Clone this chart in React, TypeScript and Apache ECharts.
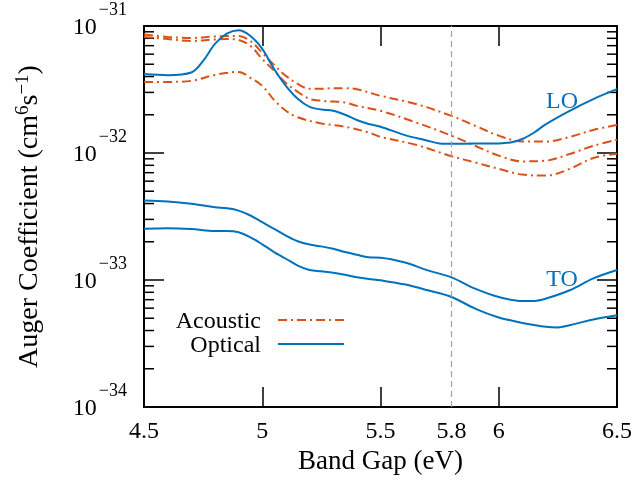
import React, { useEffect, useRef } from 'react';
import * as echarts from 'echarts';

// ---- Data (band gap in eV, Auger coefficient in cm^6 s^-1) ----
const ACOUSTIC_X = [4.5, 4.6, 4.7, 4.8, 4.85, 4.9, 4.95, 5.0, 5.05, 5.1, 5.15, 5.2, 5.25, 5.3, 5.35, 5.4, 5.5, 5.65, 5.8, 5.9, 6.0, 6.1, 6.2, 6.3, 6.4, 6.5];
const ACOUSTIC_1 = [8.57e-32, 8.2e-32, 8.05e-32, 8.27e-32, 8.35e-32, 8.35e-32, 7.62e-32, 6.14e-32, 4.94e-32, 4.05e-32, 3.5e-32, 3.2e-32, 3.2e-32, 3.24e-32, 3.24e-32, 3.18e-32, 2.82e-32, 2.43e-32, 1.96e-32, 1.64e-32, 1.37e-32, 1.23e-32, 1.23e-32, 1.34e-32, 1.52e-32, 1.66e-32];
const ACOUSTIC_2 = [8.2e-32, 7.9e-32, 7.62e-32, 7.83e-32, 7.9e-32, 7.76e-32, 6.97e-32, 5.5e-32, 4.44e-32, 3.56e-32, 3.03e-32, 2.67e-32, 2.58e-32, 2.54e-32, 2.5e-32, 2.35e-32, 2.15e-32, 1.74e-32, 1.37e-32, 1.14e-32, 9.53e-33, 8.59e-33, 8.71e-33, 9.82e-33, 1.14e-32, 1.27e-32];
const ACOUSTIC_3_X = [4.5, 4.6, 4.7, 4.8, 4.9, 4.95, 5.0, 5.05, 5.1, 5.15, 5.25, 5.35, 5.45, 5.5, 5.65, 5.8, 5.9, 6.0, 6.1, 6.2, 6.3, 6.4, 6.5];
const ACOUSTIC_3 = [3.63e-32, 3.63e-32, 3.7e-32, 4.12e-32, 4.35e-32, 3.91e-32, 3.38e-32, 2.62e-32, 2.15e-32, 1.91e-32, 1.71e-32, 1.61e-32, 1.45e-32, 1.34e-32, 1.16e-32, 9.44e-33, 8.43e-33, 7.5e-33, 6.76e-33, 6.64e-33, 7.5e-33, 9.14e-33, 9.88e-33];

const LO_X = [4.5, 4.6, 4.7, 4.75, 4.8, 4.85, 4.9, 4.95, 5.0, 5.05, 5.1, 5.15, 5.2, 5.25, 5.3, 5.35, 5.4, 5.45, 5.5, 5.6, 5.7, 5.75, 5.8, 5.9, 6.0, 6.05, 6.1, 6.15, 6.2, 6.3, 6.4, 6.5];
const LO = [4.18e-32, 4.1e-32, 4.3e-32, 5.31e-32, 7.22e-32, 8.7e-32, 9.25e-32, 8.34e-32, 6.6e-32, 4.59e-32, 3.38e-32, 2.67e-32, 2.31e-32, 2.2e-32, 2.15e-32, 2.0e-32, 1.82e-32, 1.69e-32, 1.61e-32, 1.39e-32, 1.25e-32, 1.19e-32, 1.18e-32, 1.19e-32, 1.19e-32, 1.21e-32, 1.29e-32, 1.45e-32, 1.69e-32, 2.15e-32, 2.66e-32, 3.18e-32];

const TO_1_X = [4.5, 4.6, 4.7, 4.8, 4.85, 4.9, 4.95, 5.0, 5.05, 5.1, 5.15, 5.2, 5.25, 5.3, 5.35, 5.4, 5.45, 5.5, 5.6, 5.7, 5.8, 5.9, 6.0, 6.1, 6.15, 6.2, 6.3, 6.4, 6.5];
const TO_1 = [4.23e-33, 4.15e-33, 3.98e-33, 3.74e-33, 3.67e-33, 3.52e-33, 3.22e-33, 2.85e-33, 2.53e-33, 2.24e-33, 2.02e-33, 1.9e-33, 1.84e-33, 1.76e-33, 1.66e-33, 1.58e-33, 1.51e-33, 1.5e-33, 1.38e-33, 1.19e-33, 1.05e-33, 8.55e-34, 7.35e-34, 6.84e-34, 6.84e-34, 7.14e-34, 8.3e-34, 1.03e-33, 1.2e-33];
const TO_2_X = [4.5, 4.6, 4.7, 4.8, 4.85, 4.9, 4.95, 5.0, 5.05, 5.1, 5.15, 5.2, 5.25, 5.3, 5.35, 5.4, 5.45, 5.5, 5.6, 5.7, 5.8, 5.9, 6.0, 6.05, 6.1, 6.2, 6.25, 6.3, 6.4, 6.5];
const TO_2 = [2.53e-33, 2.56e-33, 2.52e-33, 2.43e-33, 2.43e-33, 2.38e-33, 2.17e-33, 1.91e-33, 1.66e-33, 1.47e-33, 1.3e-33, 1.2e-33, 1.17e-33, 1.14e-33, 1.1e-33, 1.05e-33, 1.02e-33, 9.94e-34, 9.25e-34, 8.3e-34, 7.35e-34, 5.96e-34, 5.06e-34, 4.82e-34, 4.59e-34, 4.28e-34, 4.23e-34, 4.41e-34, 4.89e-34, 5.27e-34];

const X_LABELS = [4.5, 5, 5.5, 5.8, 6, 6.5];
const X_TICKS = [5, 5.5, 6];
const MARKER_X = 5.8;
const Y_MIN = 1e-34;
const Y_MAX = 1e-31;
const DECADES = [1e-34, 1e-33, 1e-32];
const MINOR_MULTIPLIERS = [2, 3, 4, 5, 6, 7, 8, 9];

// ECharts rounds tiny numbers to 0, so values are plotted in units of 1e-34 cm^6 s^-1
const UNIT = 1e-34;
const UNIT_EXP = -34;

const BLUE = '#0072bd';
const ORANGE = '#d95319';
const FONT = 'Liberation Serif';

const pairs = (xs: number[], ys: number[]) => xs.map((x, i) => [x, ys[i] / UNIT]);

export default function App() {
  const ref = useRef<HTMLDivElement>(null);
  useEffect(() => {
    const chart = echarts.init(ref.current!, null, { renderer: 'svg' });
    const minorTicks: number[][] = [];
    DECADES.forEach((d) => MINOR_MULTIPLIERS.forEach((m) => minorTicks.push([4.5, Math.round((m * d) / UNIT)])));

    const acousticStyle = { color: ORANGE, width: 2, type: [9, 4, 2, 4] as any };
    const opticalStyle = { color: BLUE, width: 2 };
    const lineBase = { type: 'line', symbol: 'none', showSymbol: false, smooth: 0.35, z: 3 } as any;

    const yLabelFormatter = (v: number) => {
      const e = Math.round(Math.log10(v)) + UNIT_EXP;
      return `{b|10}{s|${e < 0 ? '\u2212' : ''}${Math.abs(e)}}`;
    };

    const axisCommon = { lineStyle: { color: '#000', width: 2 } };
    const tickStyle = { color: '#000', width: 1.5 };
    const yMin = Math.round(Y_MIN / UNIT);
    const yMax = Math.round(Y_MAX / UNIT);

    chart.setOption({
      animation: false,
      textStyle: { fontFamily: FONT },
      grid: { left: 144, right: 19, top: 25, bottom: 74, containLabel: false },
      legend: {
        data: ['Acoustic', 'Optical'],
        orient: 'vertical',
        align: 'right',
        right: 291,
        top: 308,
        padding: 0,
        itemWidth: 66,
        itemHeight: 20,
        itemGap: 0,
        selectedMode: false,
        itemStyle: { opacity: 0 },
        textStyle: { fontFamily: FONT, fontSize: 24, color: '#000', padding: [0, 12, 0, 0] },
      },
      xAxis: [
        {
          type: 'value',
          min: 4.5,
          max: 6.5,
          position: 'bottom',
          name: 'Band Gap (eV)',
          nameLocation: 'middle',
          nameGap: 34,
          nameTextStyle: { fontFamily: FONT, fontSize: 27, color: '#000' },
          axisLine: { show: true, onZero: false, ...axisCommon },
          axisTick: { show: true, inside: true, length: 20, lineStyle: tickStyle, customValues: X_TICKS },
          axisLabel: {
            show: true,
            margin: 11,
            fontFamily: FONT,
            fontSize: 24,
            color: '#000',
            customValues: X_LABELS,
            formatter: (v: number) => String(v),
          },
          splitLine: { show: false },
        },
        {
          type: 'value',
          min: 4.5,
          max: 6.5,
          position: 'top',
          axisLine: { show: true, onZero: false, ...axisCommon },
          axisTick: { show: true, inside: true, length: 20, lineStyle: tickStyle, customValues: X_TICKS },
          axisLabel: { show: false },
          splitLine: { show: false },
        },
      ],
      yAxis: [
        {
          type: 'log',
          logBase: 10,
          min: yMin,
          max: yMax,
          position: 'left',
          name: 'Auger Coefficient (cm{s|6}s{s|\u22121})',
          nameLocation: 'middle',
          nameGap: 102,
          nameRotate: 90,
          nameTextStyle: {
            fontFamily: FONT,
            fontSize: 28,
            color: '#000',
            lineHeight: 30,
            rich: { s: { fontFamily: FONT, fontSize: 19, verticalAlign: 'top', lineHeight: 18, color: '#000' } },
          },
          axisLine: { show: true, onZero: false, ...axisCommon },
          axisTick: { show: true, inside: true, length: 20, lineStyle: tickStyle },
          axisLabel: {
            show: true,
            margin: 17,
            formatter: yLabelFormatter,
            rich: {
              b: { fontFamily: FONT, fontSize: 24, lineHeight: 52, color: '#000' },
              s: { fontFamily: FONT, fontSize: 18, lineHeight: 18, verticalAlign: 'top', color: '#000', padding: [0, 0, 0, 2] },
            },
          },
          splitLine: { show: false },
        },
        {
          type: 'log',
          logBase: 10,
          min: yMin,
          max: yMax,
          position: 'right',
          axisLine: { show: true, onZero: false, ...axisCommon },
          axisTick: { show: true, inside: true, length: 20, lineStyle: tickStyle },
          axisLabel: { show: false },
          splitLine: { show: false },
        },
      ],
      graphic: [
        {
          type: 'text',
          x: 562,
          y: 100,
          style: { text: 'LO', fontFamily: FONT, fontSize: 24, fill: BLUE, align: 'center', verticalAlign: 'middle', textAlign: 'center', textVerticalAlign: 'middle' },
        },
        {
          type: 'text',
          x: 562,
          y: 278,
          style: { text: 'TO', fontFamily: FONT, fontSize: 24, fill: BLUE, align: 'center', verticalAlign: 'middle', textAlign: 'center', textVerticalAlign: 'middle' },
        },
      ],
      series: [
        {
          type: 'custom',
          name: 'minorTicks',
          silent: true,
          clip: false,
          data: minorTicks,
          renderItem: (params: any, api: any) => {
            const cs = params.coordSys;
            const y = api.coord([api.value(0), api.value(1)])[1];
            const st = { stroke: '#000', lineWidth: 1.5 };
            return {
              type: 'group',
              children: [
                { type: 'line', shape: { x1: cs.x, y1: y, x2: cs.x + 10, y2: y }, style: st },
                { type: 'line', shape: { x1: cs.x + cs.width - 10, y1: y, x2: cs.x + cs.width, y2: y }, style: st },
              ],
            };
          },
        },
        { ...lineBase, name: 'Acoustic', data: pairs(ACOUSTIC_X, ACOUSTIC_1), lineStyle: acousticStyle, itemStyle: { color: ORANGE } },
        { ...lineBase, name: 'Acoustic', data: pairs(ACOUSTIC_X, ACOUSTIC_2), lineStyle: acousticStyle, itemStyle: { color: ORANGE } },
        { ...lineBase, name: 'Acoustic', data: pairs(ACOUSTIC_3_X, ACOUSTIC_3), lineStyle: acousticStyle, itemStyle: { color: ORANGE } },
        {
          ...lineBase,
          name: 'Optical',
          data: pairs(LO_X, LO),
          lineStyle: opticalStyle,
          itemStyle: { color: BLUE },
          markLine: {
            silent: true,
            symbol: 'none',
            label: { show: false },
            lineStyle: { color: '#9aa0a6', type: [6, 4], width: 1.2 },
            data: [{ xAxis: MARKER_X }],
          },
        },
        { ...lineBase, name: 'Optical', data: pairs(TO_1_X, TO_1), lineStyle: opticalStyle, itemStyle: { color: BLUE } },
        { ...lineBase, name: 'Optical', data: pairs(TO_2_X, TO_2), lineStyle: opticalStyle, itemStyle: { color: BLUE } },
      ],
    });
    return () => chart.dispose();
  }, []);
  return <div ref={ref} style={{ position: 'fixed', left: 0, top: 0, width: 636, height: 481 }} />;
}
